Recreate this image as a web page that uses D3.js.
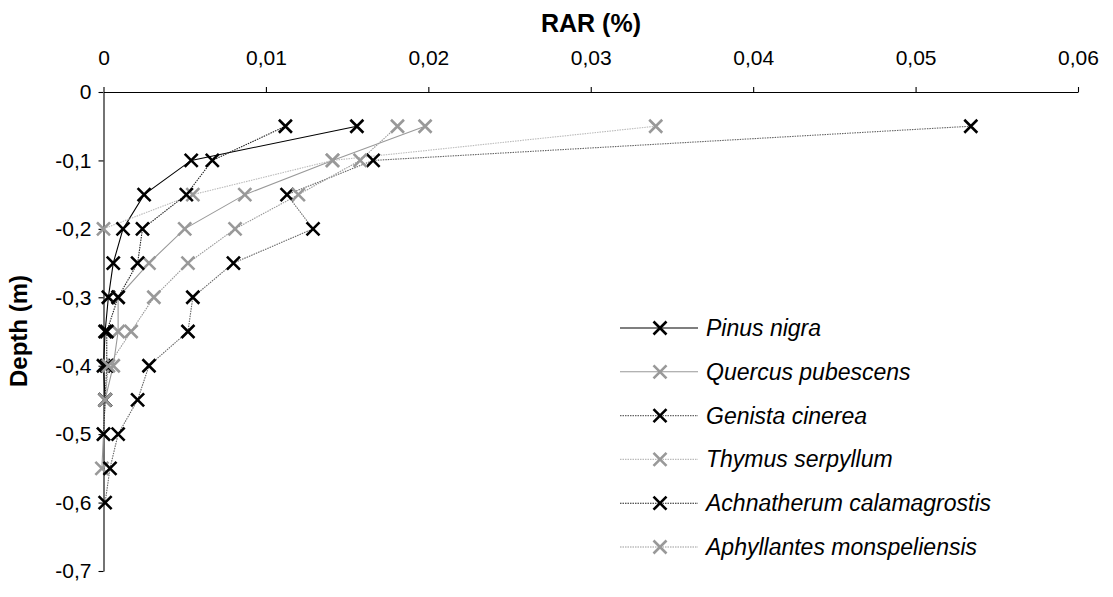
<!DOCTYPE html>
<html><head><meta charset="utf-8">
<script src="https://cdn.jsdelivr.net/npm/d3@7"></script>
<style>body{margin:0;background:#fff;} svg{display:block;font-family:Arial,"Liberation Sans",sans-serif;}</style>
</head><body>
<svg id="chart" width="1113" height="597"></svg>
<script>
const depths = [-0.05,-0.1,-0.15,-0.2,-0.25,-0.3,-0.35,-0.4,-0.45,-0.5,-0.55,-0.6];
const xTicks = [0,0.01,0.02,0.03,0.04,0.05,0.06];
const yTicks = [0,-0.1,-0.2,-0.3,-0.4,-0.5,-0.6,-0.7];
const pinusNigra = [0.0156,0.0054,0.0025,0.0012,0.0006,0.0003,0.0001,0.0000,0.0001,null,null,null];
const quercusPubescens = [0.0198,0.0141,0.0087,0.0050,0.0028,0.0009,0.0009,0.0006,0.0001,0.0000,-0.0001,null];
const genistaCinerea = [0.0534,0.0166,0.0113,0.0129,0.0080,0.0055,0.0052,0.0028,0.0021,0.0009,0.0004,0.0001];
const thymusSerpyllum = [0.0340,0.0141,0.0055,0.0000,null,null,null,null,null,null,null,null];
const achnatherumCalamagrostis = [0.0112,0.0067,0.0051,0.0024,0.0021,0.0009,0.0002,0.0002,0.0001,0.0000,null,null];
const aphyllantesMonspeliensis = [0.0181,0.0158,0.0120,0.0081,0.0052,0.0031,0.0017,0.0003,0.0001,null,null,null];
const seriesNames = ["Pinus nigra","Quercus pubescens","Genista cinerea","Thymus serpyllum","Achnatherum calamagrostis","Aphyllantes monspeliensis"];

const seriesData = [pinusNigra,quercusPubescens,genistaCinerea,thymusSerpyllum,achnatherumCalamagrostis,aphyllantesMonspeliensis];
const styles = [
  {line:"#000", dash:null, w:1.1, mark:"#000"},
  {line:"#999", dash:null, w:1.1, mark:"#999"},
  {line:"#666", dash:"1.5,1", w:1.1, mark:"#000"},
  {line:"#bbb", dash:"1.5,1", w:1.1, mark:"#999"},
  {line:"#222", dash:"1.5,1", w:1.1, mark:"#000"},
  {line:"#999", dash:"1.5,1", w:1.1, mark:"#999"}
];

const svg = d3.select("#chart");
const x = d3.scaleLinear().domain([0,0.06]).range([103.5,1078]);
const y = d3.scaleLinear().domain([0,-0.7]).range([92,571]);
const fmt = v => (v===0 ? "0" : String(+v.toFixed(2))).replace(".", ",");

const xa = svg.append("g").attr("transform",`translate(0,${y(0)})`)
  .call(d3.axisTop(x).tickValues(xTicks).tickSize(5).tickSizeOuter(0).tickPadding(22).tickFormat(fmt));
const ya = svg.append("g").attr("transform",`translate(${x(0)},0)`)
  .call(d3.axisLeft(y).tickValues(yTicks).tickSize(5).tickSizeOuter(0).tickPadding(7).tickFormat(fmt));
[xa,ya].forEach(a=>{
  a.select(".domain").attr("stroke","#000").attr("stroke-width",1.1);
  a.selectAll(".tick line").attr("stroke","#000").attr("stroke-width",1.1);
  a.selectAll(".tick text").attr("fill","#000").style("font-size","21px").style("font-family","Arial, 'Liberation Sans', sans-serif");
});

svg.append("text").attr("x",591).attr("y",32).attr("text-anchor","middle")
  .style("font-weight","bold").style("font-size","25px").text("RAR (%)");
svg.append("text").attr("transform","translate(27,331) rotate(-90)").attr("text-anchor","middle")
  .style("font-weight","bold").style("font-size","24px").text("Depth (m)");

const line = d3.line().defined(d=>d.v!==null).x(d=>x(d.v)).y(d=>y(d.d));
const s = 6.5;
function cross(g, cx, cy, color){
  g.append("path").attr("d",`M${cx-s},${cy-s}L${cx+s},${cy+s}M${cx-s},${cy+s}L${cx+s},${cy-s}`)
   .attr("stroke",color).attr("stroke-width",2.6).attr("fill","none");
}
const plot = svg.append("g");
seriesData.forEach((vals,i)=>{
  const pts = vals.map((v,j)=>({v, d:depths[j]}));
  const st = styles[i];
  plot.append("path").datum(pts).attr("d",line).attr("fill","none")
    .attr("stroke",st.line).attr("stroke-width",st.w).attr("stroke-dasharray",st.dash);
});
seriesData.forEach((vals,i)=>{
  const g = plot.append("g");
  vals.forEach((v,j)=>{ if(v!==null) cross(g, x(v), y(depths[j]), styles[i].mark); });
});

const leg = svg.append("g");
seriesNames.forEach((n,i)=>{
  const yy = 328 + i*43.8;
  const st = styles[i];
  leg.append("line").attr("x1",620).attr("x2",698).attr("y1",yy).attr("y2",yy)
    .attr("stroke",st.line).attr("stroke-width",st.w).attr("stroke-dasharray",st.dash);
  cross(leg, 660, yy, st.mark);
  leg.append("text").attr("x",706).attr("y",yy+8).style("font-style","italic").style("font-size","23px").text(n);
});
</script>
</body></html>
